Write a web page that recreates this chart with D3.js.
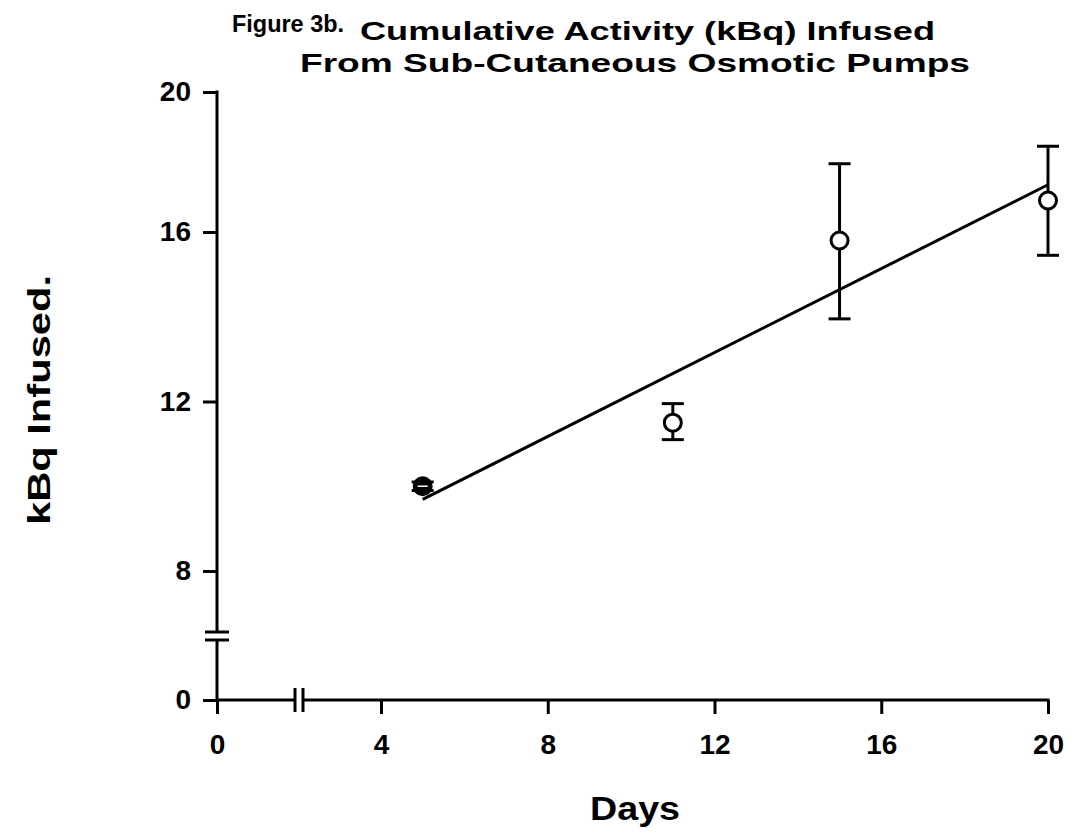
<!DOCTYPE html>
<html>
<head>
    <meta charset="utf-8">
    <script src="https://d3js.org/d3.v7.min.js"></script>
    <style>
        body { margin: 0; background: white; }
        text { font-family: "Liberation Sans", Arial, sans-serif; font-weight: bold; fill: black; }
    </style>
</head>
<body>
<div id="chart"></div>
<script>
// data
var days = [5, 11, 15, 20];
var kbq = [10.0, 11.5, 15.8, 16.9];
var errLow = [9.9, 11.1, 13.95, 15.45];
var errHigh = [10.1, 11.95, 17.95, 18.45];
var fitDays = [5, 20];
var fitKbq = [9.69, 17.35];
var xTicks = [0, 4, 8, 12, 16, 20];
var yTicks = [0, 8, 12, 16, 20];

var width = 1081, height = 833;

var svg = d3.select("#chart").append("svg")
    .attr("width", width)
    .attr("height", height);

// broken axes -> piecewise scales (the scanned axis is not quite even at the top)
var x = d3.scaleLinear().domain([0, 4, 20]).range([217, 381, 1048]);
var y = d3.scaleLinear().domain([0, 8, 16, 20]).range([700, 571, 232, 92]);

var lw = 3;

// y axis
var yAxis = svg.append("g")
    .attr("transform", "translate(" + x(0) + ",0)")
    .call(d3.axisLeft(y).tickValues(yTicks).tickSize(14).tickPadding(12));
yAxis.select(".domain").remove();
yAxis.selectAll("line").attr("stroke-width", lw);
yAxis.selectAll("text").attr("font-size", 28).attr("font-family", "Liberation Sans").attr("font-weight", "bold");

// x axis
var xAxis = svg.append("g")
    .attr("transform", "translate(0," + y(0) + ")")
    .call(d3.axisBottom(x).tickValues(xTicks).tickSize(14).tickPadding(20));
xAxis.select(".domain").remove();
xAxis.selectAll("line").attr("stroke-width", lw);
xAxis.selectAll("text").attr("font-size", 28).attr("font-family", "Liberation Sans").attr("font-weight", "bold");

// axis lines with the break gaps
var yBreakLo = 640, yBreakHi = 632;
var xBreakL = 295, xBreakR = 303;
var axes = svg.append("g").attr("stroke", "black").attr("stroke-width", lw).attr("fill", "none");
axes.append("line").attr("x1", x(0)).attr("x2", x(0)).attr("y1", y(20) - 1.5).attr("y2", yBreakHi);
axes.append("line").attr("x1", x(0)).attr("x2", x(0)).attr("y1", yBreakLo).attr("y2", y(0));
axes.append("line").attr("x1", x(0)).attr("x2", xBreakL).attr("y1", y(0)).attr("y2", y(0));
axes.append("line").attr("x1", xBreakR).attr("x2", x(20) + 1.5).attr("y1", y(0)).attr("y2", y(0));
// break marks
[yBreakHi, yBreakLo].forEach(function (yy) {
    axes.append("line").attr("x1", x(0) - 12).attr("x2", x(0) + 12).attr("y1", yy).attr("y2", yy);
});
[xBreakL, xBreakR].forEach(function (xx) {
    axes.append("line").attr("x1", xx).attr("x2", xx).attr("y1", y(0) - 12).attr("y2", y(0) + 12);
});

// fitted line
var line = d3.line()
    .x(function (d) { return x(d[0]); })
    .y(function (d) { return y(d[1]); });
svg.append("path")
    .datum(d3.zip(fitDays, fitKbq))
    .attr("d", line)
    .attr("fill", "none")
    .attr("stroke", "black")
    .attr("stroke-width", lw);

// error bars
var pts = days.map(function (d, i) {
    return { day: d, v: kbq[i], lo: errLow[i], hi: errHigh[i] };
});
var eb = svg.append("g").attr("stroke", "black").attr("stroke-width", lw);
pts.forEach(function (p) {
    eb.append("line").attr("x1", x(p.day)).attr("x2", x(p.day)).attr("y1", y(p.lo)).attr("y2", y(p.hi));
    eb.append("line").attr("x1", x(p.day) - 11).attr("x2", x(p.day) + 11).attr("y1", y(p.lo)).attr("y2", y(p.lo));
    eb.append("line").attr("x1", x(p.day) - 11).attr("x2", x(p.day) + 11).attr("y1", y(p.hi)).attr("y2", y(p.hi));
});

// open circles
svg.selectAll("circle.pt")
    .data(pts)
    .enter()
    .append("circle")
    .attr("class", "pt")
    .attr("cx", function (d) { return x(d.day); })
    .attr("cy", function (d) { return y(d.v); })
    .attr("r", 8.5)
    .attr("fill", function (d, i) { return i === 0 ? "black" : "white"; })
    .attr("stroke", "black")
    .attr("stroke-width", lw);
// the first point has a pale stripe through it in the scan
svg.append("line")
    .attr("x1", x(days[0]) - 5).attr("x2", x(days[0]) + 5)
    .attr("y1", y(kbq[0])).attr("y2", y(kbq[0]))
    .attr("stroke", "white").attr("stroke-width", 1.5);

// titles
svg.append("text").attr("x", 232).attr("y", 32).attr("font-size", 24)
    .attr("textLength", 112).attr("lengthAdjust", "spacingAndGlyphs").text("Figure 3b.");
svg.append("text").attr("x", 360).attr("y", 40).attr("font-size", 25)
    .attr("textLength", 575).attr("lengthAdjust", "spacingAndGlyphs").text("Cumulative Activity (kBq) Infused");
svg.append("text").attr("x", 300).attr("y", 72).attr("font-size", 25)
    .attr("textLength", 670).attr("lengthAdjust", "spacingAndGlyphs").text("From Sub-Cutaneous Osmotic Pumps");

svg.append("text")
    .attr("x", 590).attr("y", 820)
    .attr("font-size", 34)
    .attr("textLength", 90).attr("lengthAdjust", "spacingAndGlyphs")
    .text("Days");

svg.append("text")
    .attr("transform", "translate(50,525) rotate(-90)")
    .attr("font-size", 31)
    .attr("textLength", 250).attr("lengthAdjust", "spacingAndGlyphs")
    .text("kBq Infused.");
</script>
</body>
</html>
